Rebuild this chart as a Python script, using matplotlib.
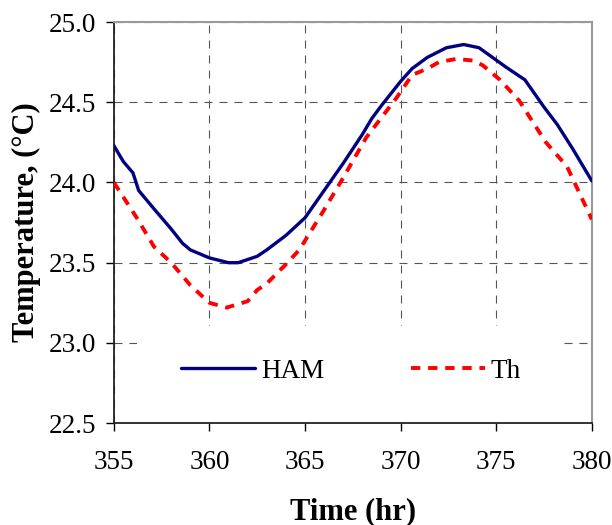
import matplotlib
matplotlib.use("Agg")
import matplotlib.pyplot as plt
from matplotlib.patches import Rectangle

plt.rcParams['font.family'] = ['Liberation Serif', 'DejaVu Serif']

# HAM model result
ham_t = [355, 355.5, 356, 356.3, 357, 358, 358.6, 359, 360, 361, 361.5, 362, 362.5,
         363, 364, 365, 366, 367, 368, 368.5, 369, 370, 370.6, 371.4, 372.4, 373.3,
         374.1, 374.8, 375.5, 376.5, 377.5, 378.2, 379, 380]
ham_T = [24.23, 24.13, 24.06, 23.95, 23.85, 23.71, 23.62, 23.58, 23.53, 23.50, 23.50,
         23.52, 23.54, 23.58, 23.67, 23.78, 23.95, 24.12, 24.30, 24.40, 24.48, 24.63,
         24.71, 24.78, 24.84, 24.86, 24.84, 24.78, 24.72, 24.64, 24.47, 24.36, 24.21, 24.01]

# Th result
th_t = [355, 356.2, 357.1, 358, 359, 360, 360.9, 362, 362.5, 363, 364, 364.7, 366,
        367, 368.2, 369.8, 370.6, 371.4, 372.0, 372.9, 373.8, 374.3, 375.2, 376.2,
        377.6, 378.7, 380]
th_T = [24.00, 23.78, 23.60, 23.50, 23.36, 23.25, 23.22, 23.26, 23.33, 23.37, 23.49,
        23.58, 23.83, 24.03, 24.28, 24.53, 24.67, 24.71, 24.75, 24.77, 24.76, 24.73,
        24.64, 24.51, 24.25, 24.10, 23.77]

xticks = [355, 360, 365, 370, 375, 380]
yticks = [22.5, 23.0, 23.5, 24.0, 24.5, 25.0]

fig = plt.figure(figsize=(6.12, 5.25), dpi=100)
ax = fig.add_axes([0.186, 0.194, 0.781, 0.764])

ax.plot(ham_t, ham_T, color="#000080", lw=2.4, label="HAM", zorder=3,
        solid_capstyle="round")
ax.plot(th_t, th_T, color="#ff0000", lw=2.8, ls=(0, (2.4, 2.0)), label="Th", zorder=3)

ax.set_xlim(355, 380)
ax.set_ylim(22.5, 25.0)
ax.set_xticks(xticks)
ax.set_yticks(yticks)
ax.set_yticklabels(["%.1f" % v for v in yticks])

ax.set_axisbelow(True)
ax.grid(True, color="#555555", lw=0.8, ls=(0, (7.2, 6.3)))

# white box behind the legend
ax.add_patch(Rectangle((0.048, 0.0), 0.883, 0.243, transform=ax.transAxes,
                       facecolor="white", edgecolor="none", zorder=2))

ax.legend(loc="center", bbox_to_anchor=(0.496, 0.13), ncol=2, frameon=False,
          fontsize=19.5, handlelength=2.74, handletextpad=0.22, columnspacing=3.2)

for s in ["top", "right"]:
    ax.spines[s].set_color("#999999")
    ax.spines[s].set_linewidth(1.5)
for s in ["left", "bottom"]:
    ax.spines[s].set_color("#222222")
    ax.spines[s].set_linewidth(1.3)

ax.tick_params(axis="x", direction="out", length=6, width=1, pad=13, labelsize=19.5)
ax.tick_params(axis="y", direction="out", length=6, width=1, pad=7, labelsize=19.5)

ax.set_xlabel("Time (hr)", fontsize=22, fontweight="bold", labelpad=16)
ax.set_ylabel("Temperature, (°C)", fontsize=22, fontweight="bold", labelpad=5)

fig.savefig("out.png", dpi=100)
